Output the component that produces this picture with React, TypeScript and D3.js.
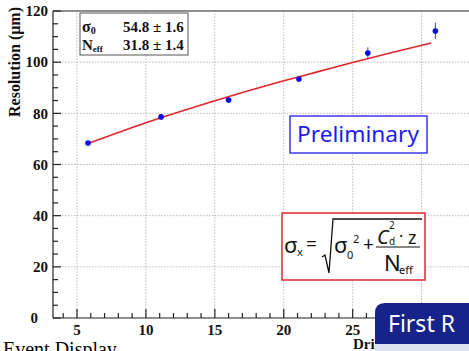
import React from "react";
import * as d3 from "d3";

// measured points
const driftZ = [5.8, 11.1, 16.0, 21.1, 26.1, 31.0];
const resolution = [68.4, 78.6, 85.2, 93.4, 103.6, 112.2];
const resolutionErr = [0.8, 0.8, 1.0, 1.0, 2.2, 3.2];

// fit curve
const fitZ = [5.7, 8, 10, 12.5, 15, 17.5, 20, 22.5, 25, 27.5, 30.7];
const fitRes = [68.0, 72.5, 76.3, 80.7, 84.9, 88.9, 92.7, 96.3, 99.9, 103.3, 107.5];

const xMajor = [5, 10, 15, 20, 25, 30];
const yMajor = [0, 20, 40, 60, 80, 100, 120];

const W = 469;
const H = 351;

const serif = "'Liberation Serif', 'DejaVu Serif', serif";
const sans = "'Noto Sans', 'DejaVu Sans', sans-serif";

export default function App() {
  const x = d3.scaleLinear().domain([3.26, 34.6]).range([53, 485]);
  const y = d3.scaleLinear().domain([0, 120]).range([318, 11]);

  const xMinor = d3.range(4, 35, 1).filter(v => v % 5 !== 0);
  const yMinor = d3.range(5, 120, 5).filter(v => v % 20 !== 0);

  const fitLine = d3
    .line<number>()
    .x((d, i) => x(fitZ[i]))
    .y(d => y(d))
    .curve(d3.curveMonotoneX);

  const [x0, x1] = x.range();
  const [yb, yt] = y.range();

  return (
    <svg
      width={W}
      height={H}
      style={{ position: "absolute", left: 0, top: 0, background: "#fff" }}
    >
      {/* grid */}
      <g stroke="#a8a8a8" strokeWidth={0.8} strokeDasharray="1.5,1.5">
        {xMajor.map(v => (
          <line key={`gx${v}`} x1={x(v)} x2={x(v)} y1={yb} y2={yt} />
        ))}
        {yMajor.filter(v => v > 0 && v < 120).map(v => (
          <line key={`gy${v}`} x1={x0} x2={x1} y1={y(v)} y2={y(v)} />
        ))}
      </g>

      {/* frame & axes */}
      <g stroke="#222" strokeWidth={1.2}>
        <line x1={x0} x2={x1} y1={yb} y2={yb} />
        <line x1={x0} x2={x0} y1={yb} y2={yt} />
        <line x1={x0} x2={x1} y1={yt} y2={yt} />
        {xMajor.map(v => (
          <line key={`tx${v}`} x1={x(v)} x2={x(v)} y1={yb} y2={yb - 9} />
        ))}
        {xMinor.map(v => (
          <line key={`mx${v}`} x1={x(v)} x2={x(v)} y1={yb} y2={yb - 5} />
        ))}
        {yMajor.map(v => (
          <line key={`ty${v}`} x1={x0} x2={x0 + 8} y1={y(v)} y2={y(v)} />
        ))}
        {yMinor.map(v => (
          <line key={`my${v}`} x1={x0} x2={x0 + 5} y1={y(v)} y2={y(v)} />
        ))}
      </g>

      {/* tick labels */}
      <g fontFamily={serif} fontWeight="bold" fontSize={15} fill="#111">
        {yMajor.map(v => (
          <text
            key={`ly${v}`}
            x={v === 0 ? 38 : 48}
            y={y(v)}
            dy="0.35em"
            textAnchor="end"
          >
            {v}
          </text>
        ))}
        {xMajor.map(v => (
          <text key={`lx${v}`} x={x(v)} y={335} textAnchor="middle">
            {v}
          </text>
        ))}
        <text transform="translate(20,7) rotate(-90)" textAnchor="end" fontSize={16}>
          Resolution (μm)
        </text>
        <text x={353} y={349} fontSize={15}>
          Drift Distance (mm)
        </text>
      </g>

      {/* fit */}
      <path d={fitLine(fitRes) || ""} fill="none" stroke="#e3242b" strokeWidth={1.6} />

      {/* data */}
      <g>
        {driftZ.map((z, i) => (
          <g key={`p${i}`}>
            <line
              x1={x(z)}
              x2={x(z)}
              y1={y(resolution[i] - resolutionErr[i])}
              y2={y(resolution[i] + resolutionErr[i])}
              stroke="#3a3aff"
              strokeWidth={1}
            />
            <circle cx={x(z)} cy={y(resolution[i])} r={2.8} fill="#0a0ae6" />
          </g>
        ))}
      </g>

      {/* stat box */}
      <g fontFamily={serif} fontWeight="bold" fill="#111">
        <rect x={80} y={13} width={108} height={42} fill="#fff" stroke="#555" strokeWidth={1} />
        <text x={82} y={32} fontSize={16}>
          σ<tspan fontSize={10} dy={2}>0</tspan>
        </text>
        <text x={123} y={32} fontSize={15}>54.8 ± 1.6</text>
        <text x={82} y={50} fontSize={15}>
          N<tspan fontSize={9} dy={2}>eff</tspan>
        </text>
        <text x={123} y={50} fontSize={15}>31.8 ± 1.4</text>
      </g>

      {/* preliminary */}
      <rect x={290} y={116} width={137} height={37} fill="#fff" stroke="#2b2bea" strokeWidth={1.4} />
      <text
        x={297}
        y={142}
        fontFamily={sans}
        fontSize={21}
        fill="#1c1cf0"
        textLength={122}
        lengthAdjust="spacingAndGlyphs"
      >
        Preliminary
      </text>

      {/* formula */}
      <rect x={282} y={213} width={143} height={67} fill="#fff" stroke="#e0353d" strokeWidth={1.6} />
      <g fontFamily={sans} fill="#111">
        <text x={284} y={253} fontSize={22}>σ</text>
        <text x={297} y={256} fontSize={11}>x</text>
        <text x={306} y={251} fontSize={19}>=</text>
        <path
          d="M322,257 L325,255 L329,273 L333,219 L422,219"
          fill="none"
          stroke="#111"
          strokeWidth={1.3}
        />
        <text x={334} y={253} fontSize={22}>σ</text>
        <text x={347} y={259} fontSize={11}>0</text>
        <text x={353} y={243} fontSize={11}>2</text>
        <text x={363} y={251} fontSize={19}>+</text>
        <text x={377} y={244} fontSize={20} fontStyle="italic">C</text>
        <text x={389} y={229} fontSize={10}>2</text>
        <text x={389} y={245} fontSize={10}>d</text>
        <text x={399} y={242} fontSize={16}>·</text>
        <text x={408} y={244} fontSize={18}>z</text>
        <line x1={376} x2={420} y1={247} y2={247} stroke="#111" strokeWidth={1.2} />
        <text x={384} y={271} fontSize={22}>N</text>
        <text x={399} y={274} fontSize={11}>eff</text>
      </g>

      {/* slide background bits */}
      <text x={3} y={356} fontFamily={serif} fontSize={20} fill="#000">
        Event Display
      </text>
      <path d="M375,351 L375,313 Q375,303 385,303 L469,303 L469,351 Z" fill="#16238a" />
      <rect x={375} y={344} width={94} height={7} fill="#dde0ef" />
      <text x={388} y={332} fontFamily={sans} fontSize={23} fill="#fff">
        First R
      </text>
    </svg>
  );
}
